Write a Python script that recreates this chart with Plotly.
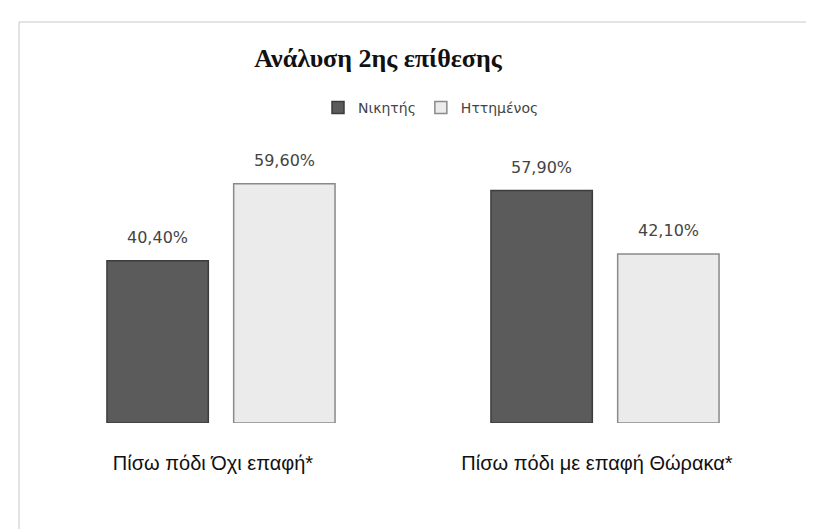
import plotly.graph_objects as go

categories = ["Πίσω πόδι Όχι επαφή*", "Πίσω πόδι με επαφή Θώρακα*"]
series_names = ["Νικητής", "Ηττημένος"]
winner = [0.404, 0.579]
loser = [0.596, 0.421]

BARGAP = 0.34
series = [(series_names[0], winner, "#5b5b5b", "#3c3c3c"),
          (series_names[1], loser, "#ebebeb", "#8a8a8a")]

fig = go.Figure()
for name, vals, col, lcol in series:
    fig.add_trace(go.Bar(
        x=categories, y=vals, name=name,
        marker=dict(color=col, line=dict(color=lcol, width=1.5)),
    ))

# value labels placed above each bar (category index +/- half slot)
annotations = []
slot = (1 - BARGAP) / 2
for k, (name, vals, col, lcol) in enumerate(series):
    off = (k - 0.5) * slot
    for i, v in enumerate(vals):
        annotations.append(dict(
            x=i + off, y=v, xref="x", yref="y", text=f"{v*100:.2f}%".replace(".", ","),
            showarrow=False, yanchor="bottom", yshift=12,
            font=dict(family="DejaVu Sans", size=16, color="#444444")))

fig.update_layout(
    width=814, height=529,
    margin=dict(l=21, r=25, t=134, b=114),
    paper_bgcolor="white", plot_bgcolor="white",
    separators=",.",
    barmode="group", bargap=BARGAP, bargroupgap=0.2,
    title=dict(text="<b>Ανάλυση 2ης επίθεσης</b>", x=370/814, xanchor="center",
               y=1-50/529, yanchor="middle",
               font=dict(family="Liberation Serif", size=26, color="#111111")),
    legend=dict(orientation="h", x=(423-21)/768, xanchor="center",
                y=(415-100)/281, yanchor="middle",
                font=dict(family="DejaVu Sans", size=14, color="#444444"),
                itemwidth=30, traceorder="normal"),
    xaxis=dict(showline=False, showgrid=False, ticks="", ticklabelstandoff=26,
               ticklabelshift=-8,
               tickfont=dict(family="Liberation Sans", size=20, color="#111111")),
    yaxis=dict(range=[0, 0.7], visible=False, showgrid=False),
    showlegend=True,
    annotations=annotations,
    shapes=[dict(type="rect", xref="paper", yref="paper",
                 x0=-10/768, x1=787/768, y0=(415-522)/281, y1=(415-14)/281,
                 line=dict(color="#c8c8c8", width=1))],
)

fig.write_html("out.html")
